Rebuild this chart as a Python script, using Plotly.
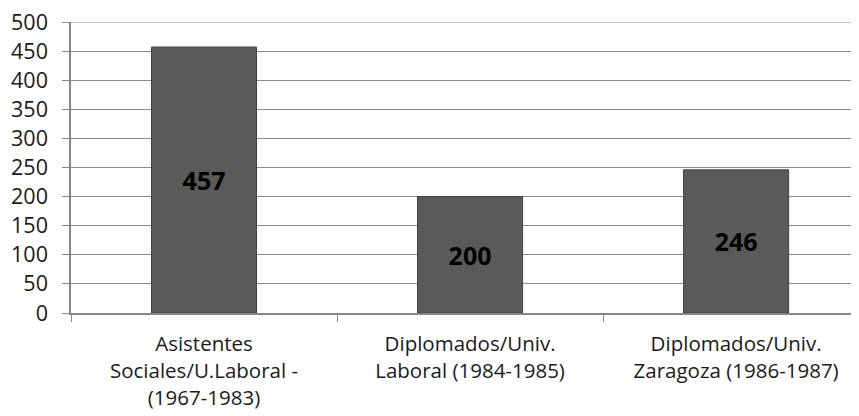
import plotly.graph_objects as go

categories = ["Asistentes Sociales/U.Laboral - (1967-1983)",
              "Diplomados/Univ. Laboral (1984-1985)",
              "Diplomados/Univ. Zaragoza (1986-1987)"]
tick_labels = ["Asistentes<br>Sociales/U.Laboral -<br>(1967-1983)",
               "Diplomados/Univ.<br>Laboral (1984-1985)",
               "Diplomados/Univ.<br>Zaragoza (1986-1987)"]
values = [457, 200, 246]
y_ticks = [0, 50, 100, 150, 200, 250, 300, 350, 400, 450, 500]

FONT = "Open Sans"
GRID = "#8c8c8c"

fig = go.Figure(go.Bar(
    x=categories, y=values,
    text=[str(v) for v in values],
    textposition="inside", insidetextanchor="middle",
    textfont=dict(family=FONT, size=25, color="black", weight="bold"),
    marker=dict(color="#5a5a5a", line=dict(color="#404040", width=1)),
    width=0.395,
))

# the top gridline (at the axis maximum) drawn explicitly
fig.add_shape(type="line", xref="paper", x0=0, x1=1, yref="y",
              y0=y_ticks[-1], y1=y_ticks[-1], layer="below",
              line=dict(color=GRID, width=1.2))

# the page body has an 8px margin, so margins are offset to compensate
fig.update_layout(
    width=859, height=416,
    margin=dict(l=63, r=8, t=14, b=111, autoexpand=False),
    paper_bgcolor="white", plot_bgcolor="white",
    font=dict(family=FONT, size=20.5, color="#1a1a1a"),
    showlegend=False,
    uniformtext=dict(mode=False),
)
fig.update_xaxes(
    type="category", range=[-0.5, 2.462], automargin=False,
    tickmode="array", tickvals=categories, ticktext=tick_labels,
    tickson="boundaries", ticks="outside", ticklen=7, tickcolor="#868686",
    showline=True, linecolor="#868686", linewidth=1.5,
    showgrid=False, tickfont=dict(size=20.5),
    ticklabelstandoff=12, ticklabeloverflow="allow",
)
fig.update_yaxes(
    range=[0, 500], tickmode="array", tickvals=y_ticks,
    ticktext=[str(v) for v in y_ticks], automargin=False,
    ticks="outside", ticklen=7, tickcolor="#868686",
    showline=True, linecolor="#868686", linewidth=1.5,
    showgrid=True, gridcolor=GRID, gridwidth=1.2,
    zeroline=False, tickfont=dict(size=21.5),
    ticklabelstandoff=10, ticklabeloverflow="allow",
)

fig.write_html("out.html")
